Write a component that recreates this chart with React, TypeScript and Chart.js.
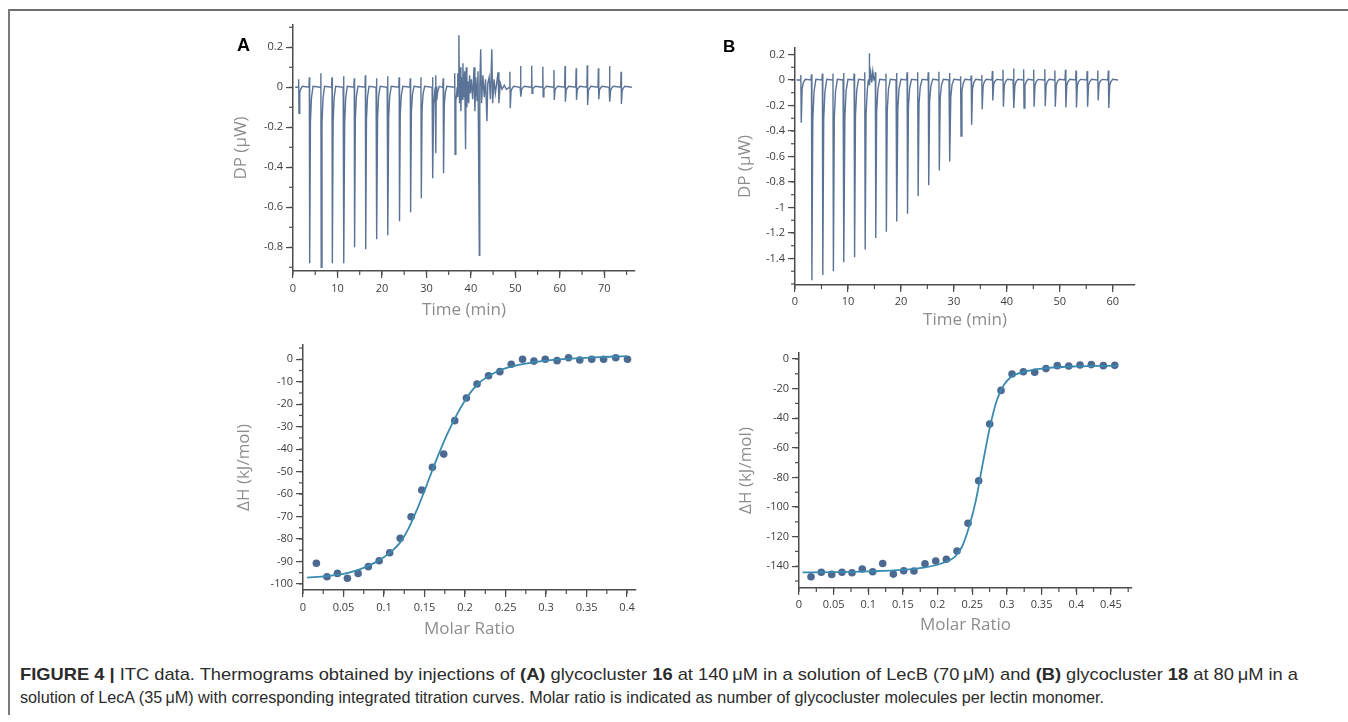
import React, { useEffect, useLayoutEffect, useRef } from "react";
import { Chart, registerables } from "chart.js";
Chart.register(...registerables);

const FONT = "'Open Sans', 'DejaVu Sans', sans-serif";
const AXIS = "#4d4d4d";
const TICK_TXT = "#404040";
const TITLE_TXT = "#8d8d8d";
const TRACE = "#5a7396";
const DOTS = "#4b6991";
const FIT = "#3a8ab0";

// ---------- Panel A, thermogram ----------
const thermoA_span = [0.5, 76.2];
const thermoA_injTime = [1.3, 3.7, 6.3, 8.8, 11.4, 13.8, 16.3, 18.8, 21.3, 23.9, 26.4, 28.8, 31.4, 32.1, 33.8, 36.4, 48.8, 51.2, 53.7, 56.2, 58.7, 61.2, 63.7, 66.2, 68.7, 71.2, 73.8];
const thermoA_injMin = [-0.13, -0.88, -0.9, -0.88, -0.88, -0.8, -0.81, -0.76, -0.74, -0.67, -0.625, -0.555, -0.455, -0.33, -0.43, -0.335, -0.105, -0.047, -0.03, -0.047, -0.063, -0.072, -0.063, -0.088, -0.06, -0.072, -0.083];
const thermoA_injMax = [0.04, 0.05, 0.07, 0.05, 0.055, 0.045, 0.06, 0.045, 0.055, 0.05, 0.045, 0.05, 0.05, 0.06, 0.045, 0.07, 0.078, 0.107, 0.108, 0.103, 0.087, 0.107, 0.095, 0.11, 0.095, 0.107, 0.078];
const thermoA_noiseT = [36.9, 37.0, 37.1, 37.3, 37.45, 37.6, 37.75, 37.9, 38.05, 38.2, 38.35, 38.6, 38.8, 38.95, 39.1, 39.3, 39.5, 39.7, 39.9, 40.1, 40.4, 40.7, 40.9, 41.1, 41.4, 41.6, 41.9, 42.0, 42.2, 42.4, 42.7, 43.0, 43.3, 43.6, 43.8, 44.1, 44.4, 44.7, 44.9, 45.2, 45.5, 45.8, 46.1, 46.3, 46.6, 47.0, 47.5, 48.0];
const thermoA_noiseV = [0.0, 0.07, -0.05, 0.26, -0.08, 0.1, -0.12, 0.05, -0.06, 0.12, -0.05, 0.08, -0.31, 0.1, -0.1, 0.03, -0.08, 0.06, -0.03, 0.04, -0.06, 0.1, -0.12, 0.05, -0.07, 0.08, -0.84, 0.0, 0.19, -0.08, 0.06, -0.05, 0.04, -0.17, 0.02, 0.05, -0.06, 0.19, -0.08, 0.04, -0.03, 0.02, 0.075, -0.08, 0.02, -0.01, 0.01, -0.01];

// ---------- Panel B, thermogram ----------
const thermoB_span = [0.3, 61.0];
const thermoB_injTime = [1.13, 3.14, 5.2, 7.2, 9.2, 11.2, 13.2, 15.2, 17.2, 19.2, 21.2, 23.2, 25.2, 27.2, 29.2, 31.3, 33.3, 35.3, 37.3, 39.3, 41.3, 43.2, 45.1, 47.2, 49.1, 51.1, 53.1, 55.2, 57.2, 59.2];
const thermoB_injMin = [-0.335, -1.57, -1.53, -1.5, -1.43, -1.39, -1.33, -1.24, -1.19, -1.11, -1.05, -0.91, -0.825, -0.71, -0.64, -0.44, -0.35, -0.23, -0.16, -0.21, -0.22, -0.22, -0.21, -0.205, -0.21, -0.215, -0.215, -0.21, -0.16, -0.22];
const thermoB_injMax = [0.04, 0.045, 0.05, 0.05, 0.055, 0.05, 0.06, 0.06, 0.05, 0.055, 0.06, 0.06, 0.06, 0.065, 0.055, 0.03, 0.035, 0.04, 0.07, 0.08, 0.09, 0.085, 0.08, 0.085, 0.075, 0.08, 0.075, 0.07, 0.075, 0.075];
const thermoB_noiseT = [13.85, 14.0, 14.12, 14.3, 14.5, 14.7, 14.9];
const thermoB_noiseV = [0.0, 0.21, -0.04, 0.06, -0.02, 0.07, 0.0];

// ---------- Panel A, integrated heats ----------
const ratioA = [0.0165, 0.0296, 0.0425, 0.0548, 0.068, 0.0807, 0.094, 0.107, 0.12, 0.1334, 0.1466, 0.1597, 0.1737, 0.1873, 0.2017, 0.2148, 0.229, 0.243, 0.257, 0.271, 0.285, 0.299, 0.3136, 0.3277, 0.3416, 0.3564, 0.371, 0.386, 0.4005];
const dHA = [-90.8, -96.8, -95.3, -97.5, -95.3, -92.3, -89.7, -86.1, -79.7, -70.1, -58.2, -48.1, -42.2, -27.3, -17.2, -11.0, -7.3, -5.5, -2.2, 0, -0.8, 0, -0.6, 0.7, -0.3, 0, 0, 0.7, 0];
const fitA_x = [0.005, 0.03, 0.05, 0.07, 0.09, 0.11, 0.12, 0.13, 0.14, 0.15, 0.16, 0.17, 0.18, 0.19, 0.2, 0.21, 0.22, 0.24, 0.26, 0.28, 0.3, 0.33, 0.36, 0.4];
const fitA_y = [-97.2, -96.5, -95.5, -93.5, -90.3, -85.3, -81.5, -75.5, -67.5, -58.5, -49, -40, -31.8, -24.5, -18.3, -13.3, -9.7, -5.3, -3, -1.6, -0.6, 0.3, 0.9, 1.4];

// ---------- Panel B, integrated heats ----------
const ratioB = [0.0173, 0.0322, 0.0472, 0.062, 0.0765, 0.0913, 0.1063, 0.1208, 0.1361, 0.1511, 0.1659, 0.1818, 0.1973, 0.2126, 0.228, 0.2439, 0.2593, 0.2752, 0.2915, 0.3074, 0.3237, 0.3401, 0.3564, 0.3727, 0.3892, 0.4055, 0.4218, 0.4391, 0.4556];
const dHB = [-147.1, -144.1, -145.5, -144.1, -144.4, -141.9, -143.7, -138.1, -145.3, -143.0, -143.2, -138.3, -136.5, -135.3, -129.7, -111.0, -82.2, -43.9, -21.2, -10.1, -8.6, -9.0, -6.5, -4.5, -4.7, -4.1, -3.8, -4.5, -4.3];
const fitB_x = [0.005, 0.05, 0.1, 0.15, 0.18, 0.2, 0.215, 0.225, 0.235, 0.245, 0.255, 0.265, 0.275, 0.285, 0.295, 0.305, 0.315, 0.33, 0.36, 0.4, 0.46];
const fitB_y = [-144.2, -144, -143.5, -142.5, -141, -139, -136.5, -133.5, -127, -114, -96, -71, -47, -28.5, -18, -12.5, -10, -8, -6, -5, -4.5];

// ---------- Tick labels ----------
const ticksTimeA = [0, 10, 20, 30, 40, 50, 60, 70];
const ticksDpA = [-0.8, -0.6, -0.4, -0.2, 0, 0.2];
const ticksTimeB = [0, 10, 20, 30, 40, 50, 60];
const ticksDpB = [-1.4, -1.2, -1, -0.8, -0.6, -0.4, -0.2, 0, 0.2];
const ticksRatioA = [0, 0.05, 0.1, 0.15, 0.2, 0.25, 0.3, 0.35, 0.4];
const ticksDhA = [-100, -90, -80, -70, -60, -50, -40, -30, -20, -10, 0];
const ticksRatioB = [0, 0.05, 0.1, 0.15, 0.2, 0.25, 0.3, 0.35, 0.4, 0.45];
const ticksDhB = [-140, -120, -100, -80, -60, -40, -20, 0];

function buildTrace(span: number[], ts: number[], mins: number[], maxs: number[], nT: number[], nV: number[]) {
  const pts: { x: number; y: number }[] = [{ x: span[0], y: 0 }];
  ts.forEach((t, i) => {
    const d = mins[i];
    const b = maxs[i];
    pts.push(
      { x: t - 0.12, y: 0 },
      { x: t - 0.03, y: b },
      { x: t + 0.05, y: d },
      { x: t + 0.22, y: d * 0.2 },
      { x: t + 0.45, y: d * 0.06 },
      { x: t + 0.8, y: 0.005 }
    );
  });
  nT.forEach((t, i) => pts.push({ x: t, y: nV[i] }));
  pts.push({ x: span[1], y: 0 });
  pts.sort((a, b) => a.x - b.x);
  return pts;
}

const zip = (xs: number[], ys: number[]) => xs.map((x, i) => ({ x, y: ys[i] }));

const fmt = (v: number) => {
  const r = Math.round(v * 1000) / 1000;
  return Math.abs(r) < 1e-9 ? "0" : String(r);
};

const minorTicksPlugin = {
  id: "minorTicks",
  afterDraw(chart: any, _args: any, opts: any) {
    const ctx = chart.ctx;
    ["x", "y"].forEach((id) => {
      const o = opts[id];
      if (!o) return;
      const s = chart.scales[id];
      ctx.save();
      ctx.strokeStyle = AXIS;
      ctx.lineWidth = 1.2;
      const k0 = Math.ceil(s.min / o.step - 1e-6);
      const k1 = Math.floor(s.max / o.step + 1e-6);
      for (let k = k0; k <= k1; k++) {
        const p = s.getPixelForValue(k * o.step);
        ctx.beginPath();
        if (s.isHorizontal()) {
          ctx.moveTo(p, s.top);
          ctx.lineTo(p, s.top + o.len);
        } else {
          ctx.moveTo(s.right, p);
          ctx.lineTo(s.right - o.len, p);
        }
        ctx.stroke();
      }
      ctx.restore();
    });
  },
};

type PanelCfg = {
  left: number; top: number; width: number; height: number;
  yWidth: number; xHeight: number;
  pad: { top: number; right: number; bottom: number; left: number };
  xMin: number; xMax: number; yMin: number; yMax: number;
  xTicks: number[]; yTicks: number[]; xMinor: number; yMinor: number;
  xTitle: string; yTitle: string; xTitlePad: number; yTitlePad: number;
  xTickPad: number;
  datasets: any[];
};

function Panel({ cfg }: { cfg: PanelCfg }) {
  const ref = useRef<HTMLCanvasElement>(null);
  useEffect(() => {
    const tickFont = { family: FONT, size: 11 };
    const titleFont = { family: FONT, size: 17 };
    const chart = new Chart(ref.current as HTMLCanvasElement, {
      type: "line",
      data: { datasets: cfg.datasets },
      options: {
        responsive: false,
        animation: false,
        devicePixelRatio: 1,
        layout: { padding: cfg.pad },
        plugins: {
          legend: { display: false },
          tooltip: { enabled: false },
          minorTicks: { x: { step: cfg.xMinor, len: 4 }, y: { step: cfg.yMinor, len: 4 } },
        } as any,
        scales: {
          x: {
            type: "linear",
            bounds: "data",
            min: cfg.xMin,
            max: cfg.xMax,
            afterFit: (s: any) => { s.height = cfg.xHeight; },
            afterBuildTicks: (s: any) => { s.ticks = cfg.xTicks.map((v) => ({ value: v })); },
            ticks: { autoSkip: false, maxRotation: 0, padding: cfg.xTickPad, color: TICK_TXT, font: tickFont, callback: (v: any) => fmt(Number(v)) },
            grid: { drawOnChartArea: false, drawTicks: true, tickLength: 7, color: AXIS, lineWidth: 1.2 },
            border: { display: true, color: AXIS, width: 1.5 },
            title: { display: true, text: cfg.xTitle, color: TITLE_TXT, font: titleFont, padding: { top: 0, bottom: cfg.xTitlePad } },
          } as any,
          y: {
            type: "linear",
            bounds: "data",
            min: cfg.yMin,
            max: cfg.yMax,
            afterFit: (s: any) => { s.width = cfg.yWidth; },
            afterBuildTicks: (s: any) => { s.ticks = cfg.yTicks.map((v) => ({ value: v })); },
            ticks: { autoSkip: false, padding: 3, color: TICK_TXT, font: tickFont, callback: (v: any) => fmt(Number(v)) },
            grid: { drawOnChartArea: false, drawTicks: true, tickLength: 7, color: AXIS, lineWidth: 1.2 },
            border: { display: true, color: AXIS, width: 1.5 },
            title: { display: true, text: cfg.yTitle, color: TITLE_TXT, font: titleFont, padding: { top: cfg.yTitlePad, bottom: 0 } },
          } as any,
        },
      },
      plugins: [minorTicksPlugin as any],
    });
    return () => chart.destroy();
  }, []);
  return (
    <canvas
      ref={ref}
      width={cfg.width}
      height={cfg.height}
      style={{ position: "absolute", left: cfg.left, top: cfg.top, width: cfg.width, height: cfg.height }}
    />
  );
}

const traceDs = (pts: any[]) => ({
  data: pts, borderColor: TRACE, borderWidth: 1.4, pointRadius: 0, tension: 0, fill: false,
});
const dotsDs = (pts: any[]) => ({
  data: pts, showLine: false, pointRadius: 3.8, pointBackgroundColor: DOTS, pointBorderWidth: 0, borderColor: DOTS,
});
const fitDs = (pts: any[]) => ({
  data: pts, borderColor: FIT, borderWidth: 1.8, pointRadius: 0, cubicInterpolationMode: "monotone", fill: false,
});

const panels: PanelCfg[] = [
  {
    left: 215, top: 13, width: 430, height: 317, yWidth: 78, xHeight: 59,
    pad: { top: 12, right: 10, bottom: 0, left: 0 },
    xMin: 0, xMax: 76.9, yMin: -0.9185, yMax: 0.3115,
    xTicks: ticksTimeA, yTicks: ticksDpA, xMinor: 5, yMinor: 0.1,
    xTitle: "Time (min)", yTitle: "DP (\u03bcW)", xTitlePad: 9.8, yTitlePad: 15.8, xTickPad: 4,
    datasets: [traceDs(buildTrace(thermoA_span, thermoA_injTime, thermoA_injMin, thermoA_injMax, thermoA_noiseT, thermoA_noiseV))],
  },
  {
    left: 715, top: 13, width: 430, height: 322, yWidth: 80, xHeight: 50,
    pad: { top: 35, right: 10, bottom: 0, left: 0 },
    xMin: 0, xMax: 64.2, yMin: -1.608, yMax: 0.251,
    xTicks: ticksTimeB, yTicks: ticksDpB, xMinor: 5, yMinor: 0.1,
    xTitle: "Time (min)", yTitle: "DP (\u03bcW)", xTitlePad: 4.8, yTitlePad: 19.8, xTickPad: 3,
    datasets: [traceDs(buildTrace(thermoB_span, thermoB_injTime, thermoB_injMin, thermoB_injMax, thermoB_noiseT, thermoB_noiseV))],
  },
  {
    left: 225, top: 330, width: 420, height: 315, yWidth: 78, xHeight: 55,
    pad: { top: 15, right: 9, bottom: 0, left: 0 },
    xMin: 0, xMax: 0.411, yMin: -102.7, yMax: 6.37,
    xTicks: ticksRatioA, yTicks: ticksDhA, xMinor: 0.025, yMinor: 5,
    xTitle: "Molar Ratio", yTitle: "\u0394H (kJ/mol)", xTitlePad: 5.3, yTitlePad: 8.8, xTickPad: 4,
    datasets: [fitDs(zip(fitA_x, fitA_y)), dotsDs(zip(ratioA, dHA))],
  },
  {
    left: 720, top: 330, width: 420, height: 315, yWidth: 79, xHeight: 57,
    pad: { top: 23, right: 8, bottom: 0, left: 0 },
    xMin: 0, xMax: 0.4805, yMin: -154.7, yMax: 4.05,
    xTicks: ticksRatioB, yTicks: ticksDhB, xMinor: 0.025, yMinor: 10,
    xTitle: "Molar Ratio", yTitle: "\u0394H (kJ/mol)", xTitlePad: 9.8, yTitlePad: 15.8, xTickPad: 3,
    datasets: [fitDs(zip(fitB_x, fitB_y)), dotsDs(zip(ratioB, dHB))],
  },
];

function FitLine({ top, width, children }: { top: number; width: number; children: any }) {
  const ref = useRef<HTMLDivElement>(null);
  useLayoutEffect(() => {
    const el = ref.current as HTMLDivElement;
    el.style.transform = "none";
    const w = el.getBoundingClientRect().width;
    if (w > 0) el.style.transform = `scaleX(${width / w})`;
  }, []);
  return (
    <div
      ref={ref}
      style={{
        position: "absolute", left: 20, top, whiteSpace: "nowrap", transformOrigin: "0 0",
        fontFamily: "'Liberation Sans', Arial, sans-serif", fontSize: 17, lineHeight: "20px", color: "#2b2b2b",
      }}
    >
      {children}
    </div>
  );
}

const um = "\u2009\u03bcM";

export default function App() {
  return (
    <div style={{ position: "fixed", left: 0, top: 0, width: 1348, height: 722, background: "#fff", overflow: "hidden" }}>
      <div style={{ position: "absolute", left: 8, top: 9, width: 1340, height: 2, background: "#6e6e6e" }} />
      <div style={{ position: "absolute", left: 8, top: 9, width: 2, height: 706, background: "#7a7a7a" }} />
      {panels.map((p, i) => (
        <Panel key={i} cfg={p} />
      ))}
      <div style={{ position: "absolute", left: 237, top: 36, fontFamily: "'Liberation Sans', Arial, sans-serif", fontWeight: 700, fontSize: 18, lineHeight: "18px", color: "#000" }}>A</div>
      <div style={{ position: "absolute", left: 723, top: 38, fontFamily: "'Liberation Sans', Arial, sans-serif", fontWeight: 700, fontSize: 17, lineHeight: "17px", color: "#000" }}>B</div>
      <FitLine top={665} width={1278}>
        <b>FIGURE 4 |</b> ITC data. Thermograms obtained by injections of <b>(A)</b> glycocluster <b>16</b> at 140{um} in a solution of LecB (70{um}) and <b>(B)</b> glycocluster <b>18</b> at 80{um} in a
      </FitLine>
      <FitLine top={688} width={1084}>
        solution of LecA (35{um}) with corresponding integrated titration curves. Molar ratio is indicated as number of glycocluster molecules per lectin monomer.
      </FitLine>
    </div>
  );
}
